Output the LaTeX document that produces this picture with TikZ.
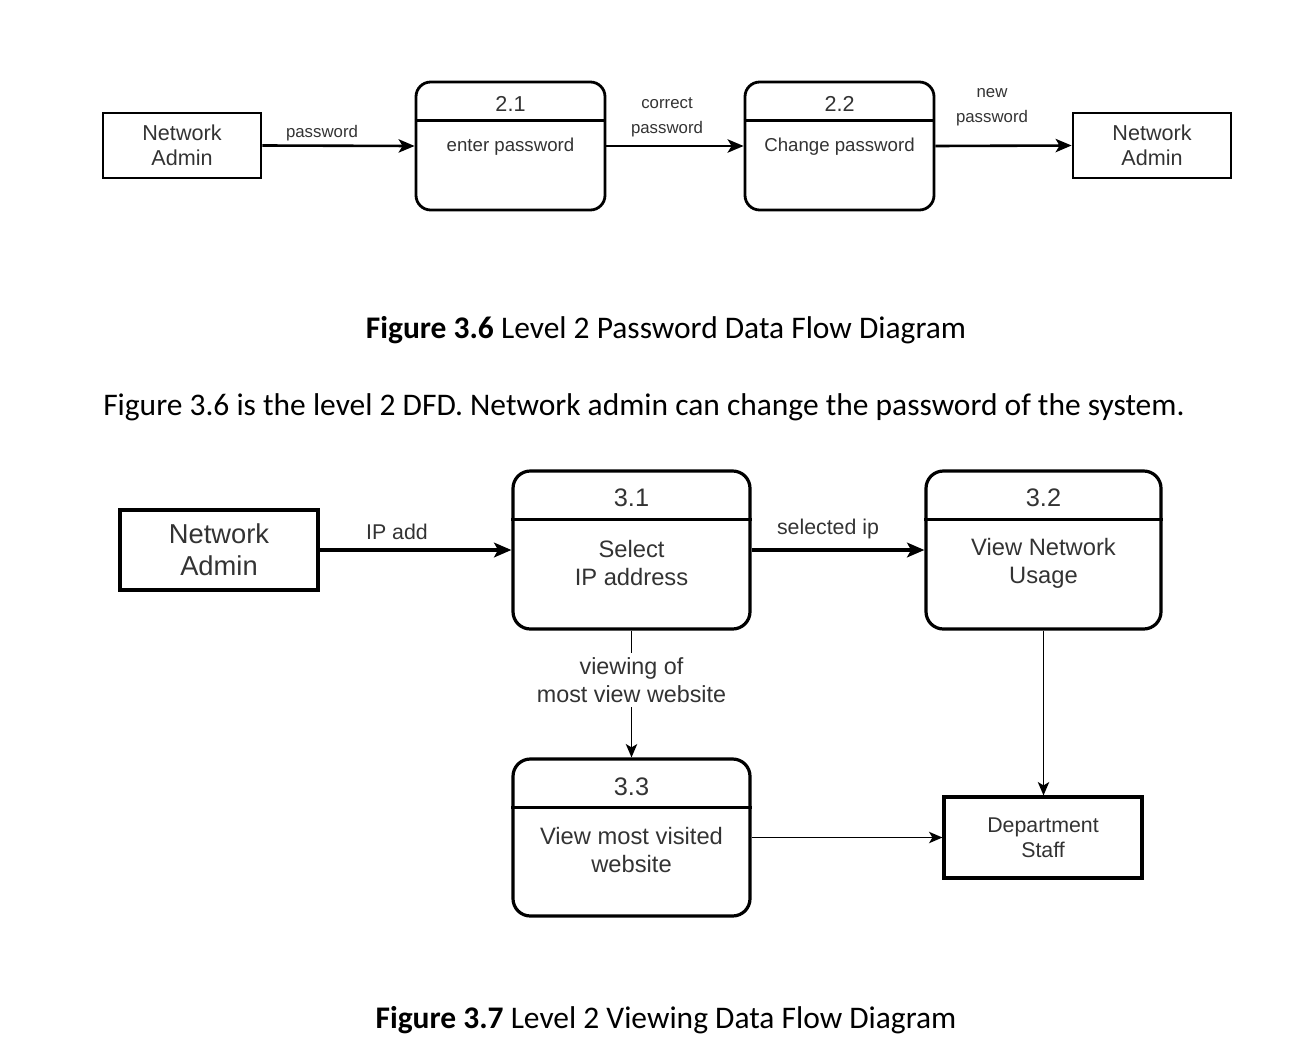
\documentclass[tikz,border=0pt]{standalone}
\usepackage{fontspec}
\setmainfont{Carlito}
\newfontfamily\dfont{Liberation Sans}
\usetikzlibrary{arrows.meta,calc}
\definecolor{dtext}{HTML}{333333}
\tikzset{
  ext/.style={draw=black, line width=2.8pt*0.75, inner sep=0pt, align=center, text=dtext},
  proc/.style={draw=black, line width=2.8pt*0.75, rounded corners=11pt, inner sep=0pt},
  divider/.style={draw=black, line width=2.8pt*0.75},
  ptext/.style={inner sep=0pt, align=center, text=dtext},
  lbl/.style={inner sep=1pt, align=center, text=dtext},
  flowA/.style={draw=black, line width=2.6pt*0.75, -{Stealth[length=12pt, width=10pt, inset=3pt]}},
  flowB/.style={draw=black, line width=3.2pt*0.75, -{Stealth[length=13pt, width=11pt, inset=3pt]}},
  flowC/.style={draw=black, line width=1.8pt*0.75, -{Stealth[length=10pt, width=8.5pt, inset=2.5pt]}},
}
\begin{document}
\begin{tikzpicture}[x=0.75pt,y=-0.75pt]
\useasboundingbox (0,0) rectangle (1305,1056);
% ---------------- Figure 3.6 ----------------
\node[ext, minimum width={158*0.75pt}, minimum height={65*0.75pt}, font=\dfont\fontsize{16.2}{18.75}\selectfont] (na1) at (182,145.5) {Network\\Admin};
\node[proc, minimum width={189*0.75pt}, minimum height={128*0.75pt}] (p21) at (510.5,146) {};
\draw[divider] ($(p21.north west)+(0,40)$) coordinate (p21dl) -- ($(p21.north east)+(0,40)$) coordinate (p21dr);
\node[ptext, font=\dfont\fontsize{16.2}{19}\selectfont] (p21n) at (510.5,104) {2.1};
\node[ptext, font=\dfont\fontsize{14}{17}\selectfont] (p21t) at (510.5,146.5) {enter password};
\node[proc, minimum width={189*0.75pt}, minimum height={128*0.75pt}] (p22) at (839.5,146) {};
\draw[divider] ($(p22.north west)+(0,40)$) coordinate (p22dl) -- ($(p22.north east)+(0,40)$) coordinate (p22dr);
\node[ptext, font=\dfont\fontsize{16.2}{19}\selectfont] (p22n) at (839.5,104) {2.2};
\node[ptext, font=\dfont\fontsize{14}{17}\selectfont] (p22t) at (839.5,146.5) {Change password};
\node[ext, minimum width={158*0.75pt}, minimum height={65*0.75pt}, font=\dfont\fontsize{16.2}{18.75}\selectfont] (na2) at (1152,145.5) {Network\\Admin};
\draw[flowA] (na1.east) -- (p21.west);
\draw[flowA] (p21.east) -- (p22.west);
\draw[flowA] (p22.east) -- (na2.west);
\node[lbl, font=\dfont\fontsize{12.6}{19}\selectfont] (l1) at (322,133) {password};
\node[lbl, font=\dfont\fontsize{12.6}{19}\selectfont] (l2) at (667,117.5) {correct\\password};
\node[lbl, font=\dfont\fontsize{12.6}{19}\selectfont] (l3) at (992,107) {new\\password};
\node[inner sep=0pt, font=\fontsize{23.6}{28}\selectfont] (cap1) at (666,330) {\textbf{Figure 3.6} Level 2 Password Data Flow Diagram};
\node[inner sep=0pt, anchor=west, font=\fontsize{23.6}{28}\selectfont] (para) at (103,407) {Figure 3.6 is the level 2 DFD. Network admin can change the password of the system.};
% ---------------- Figure 3.7 ----------------
\node[ext, line width=3.2pt*0.75, minimum width={198*0.75pt}, minimum height={80*0.75pt}, font=\dfont\fontsize{20.5}{24}\selectfont] (na3) at (219,550) {Network\\Admin};
\node[proc, line width=3.2pt*0.75, rounded corners=13pt, minimum width={237*0.75pt}, minimum height={158*0.75pt}] (p31) at (631.5,550) {};
\draw[divider, line width=3.2pt*0.75] ($(p31.north west)+(0,50)$) coordinate (p31dl) -- ($(p31.north east)+(0,50)$) coordinate (p31dr);
\node[ptext, font=\dfont\fontsize{19}{21}\selectfont] (p31n) at (631.5,498) {3.1};
\node[ptext, font=\dfont\fontsize{17.8}{21}\selectfont] (p31t) at (631.5,563) {Select\\IP address};
\node[proc, line width=3.2pt*0.75, rounded corners=13pt, minimum width={235*0.75pt}, minimum height={158*0.75pt}] (p32) at (1043.5,550) {};
\draw[divider, line width=3.2pt*0.75] ($(p32.north west)+(0,50)$) coordinate (p32dl) -- ($(p32.north east)+(0,50)$) coordinate (p32dr);
\node[ptext, font=\dfont\fontsize{19}{21}\selectfont] (p32n) at (1043.5,498) {3.2};
\node[ptext, font=\dfont\fontsize{17.8}{21}\selectfont] (p32t) at (1043.5,563) {View Network\\Usage};
\node[proc, line width=3.2pt*0.75, rounded corners=13pt, minimum width={237*0.75pt}, minimum height={157*0.75pt}] (p33) at (631.5,837.5) {};
\draw[divider, line width=3.2pt*0.75] ($(p33.north west)+(0,50)$) coordinate (p33dl) -- ($(p33.north east)+(0,50)$) coordinate (p33dr);
\node[ptext, font=\dfont\fontsize{19}{21}\selectfont] (p33n) at (631.5,787) {3.3};
\node[ptext, font=\dfont\fontsize{17.8}{21}\selectfont] (p33t) at (631.5,850) {View most visited\\website};
\node[ext, line width=3.2pt*0.75, minimum width={198*0.75pt}, minimum height={81*0.75pt}, font=\dfont\fontsize{16}{18.75}\selectfont] (ds) at (1043,837.5) {Department\\Staff};
\draw[flowB] (na3.east) -- (p31.west);
\draw[flowB] (p31.east) -- (p32.west);
\node[lbl, font=\dfont\fontsize{16}{19}\selectfont] (l4) at (397,532) {IP add};
\node[lbl, font=\dfont\fontsize{16}{19}\selectfont] (l5) at (828,528.5) {selected ip};
\draw[flowC] (p31.south) -- node[pos=0.39, fill=white, lbl, inner sep=3pt, font=\dfont\fontsize{17.5}{21}\selectfont] (l6) {viewing of\\most view website} (p33.north);
\draw[flowC] (p32.south) -- (p32.south |- ds.north);
\draw[flowC] (p33.east) -- (ds.west);
\node[inner sep=0pt, font=\fontsize{23.6}{28}\selectfont] (cap2) at (666,1020) {\textbf{Figure 3.7} Level 2 Viewing Data Flow Diagram};
\end{tikzpicture}
\end{document}
